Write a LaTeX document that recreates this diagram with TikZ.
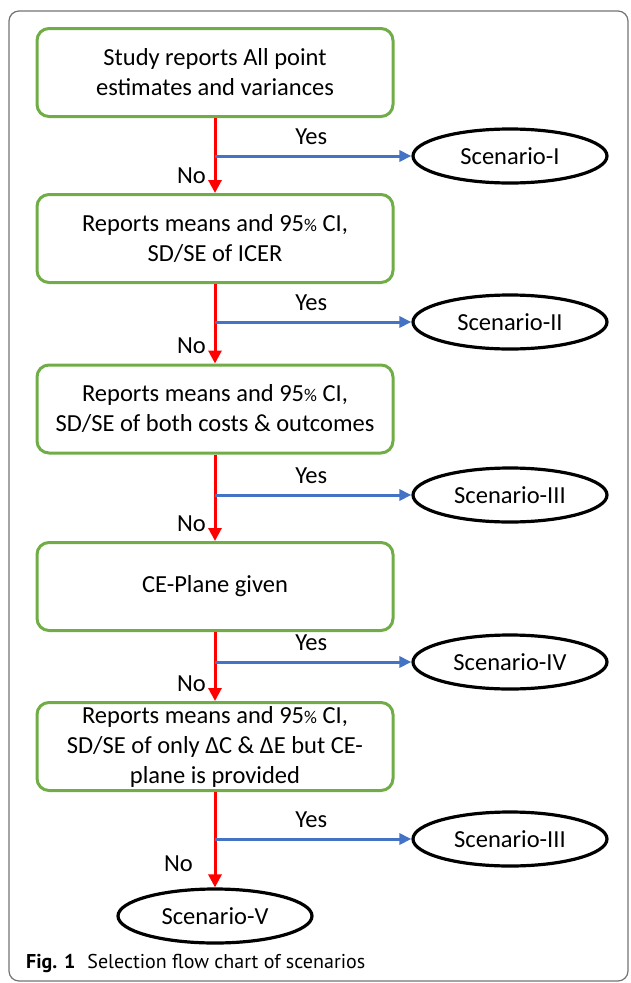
\documentclass[tikz,border=0pt]{standalone}
\usepackage{fontspec}
\setmainfont{Carlito}
\newfontfamily\capfont{PT Sans}
\usepackage{xcolor}
\usepackage{tikz}
\usetikzlibrary{shapes.geometric}
\usetikzlibrary{arrows.meta}
\definecolor{boxgreen}{RGB}{112,173,71}
\definecolor{yesblue}{RGB}{68,114,196}
\newcommand{\pct}{{\fontsize{18}{20}\selectfont\%}}

\begin{document}
\begin{tikzpicture}[x=1pt,y=-1pt]
  \tikzstyle{box}=[draw=boxgreen, line width=3pt, rounded corners=12pt, minimum width=356pt, minimum height=88pt, align=center, inner sep=0pt, font=\fontsize{24.5}{30}\selectfont] % questions in green boxes
  \tikzstyle{scen}=[draw, ellipse, line width=3.2pt, minimum width=194pt, minimum height=54pt, inner sep=0pt, font=\fontsize{24.5}{30}\selectfont] % outcomes
  \tikzstyle{lbl}=[inner sep=0pt, text=black, font=\fontsize{24.5}{30}\selectfont] % Yes / No
  \tikzstyle{no}=[red, line width=3pt, -{Triangle[length=13pt,width=13pt]}]
  \tikzstyle{yes}=[yesblue, line width=3pt, -{Triangle[length=12pt,width=11pt]}]
  \useasboundingbox (0,0) rectangle (630,983);
  \draw[black!55, line width=1.2pt, rounded corners=10pt] (9,11) rectangle (628,981);
  % questions
  \node[box] (q1) at (215,72.5) {Study reports All point\\estimates and variances};
  \node[box] (q2) at (215,238.5) {Reports means and 95\pct{} CI,\\SD/SE of ICER};
  \node[box] (q3) at (215,409) {Reports means and 95\pct{} CI,\\SD/SE of both costs \& outcomes};
  \node[box] (q4) at (215,586.5) {CE-Plane given};
  \node[box] (q5) at (215,746.5) {Reports means and 95\pct{} CI,\\SD/SE of only ΔC \& ΔE but CE-\\plane is provided};
  % scenarios
  \node[scen] (s1) at (510,156) {Scenario-I};
  \node[scen] (s2) at (510,322) {Scenario-II};
  \node[scen] (s3) at (510,495) {Scenario-III};
  \node[scen] (s4) at (510,662) {Scenario-IV};
  \node[scen] (s5) at (510,839) {Scenario-III};
  \node[scen] (sv) at (215,916) {Scenario-V};
  % branch points on the red line
  \coordinate (j1) at (q1 |- s1);
  \coordinate (j2) at (q2 |- s2);
  \coordinate (j3) at (q3 |- s3);
  \coordinate (j4) at (q4 |- s4);
  \coordinate (j5) at (q5 |- s5);
  % no
  \draw[no] (q1) -- (q2);
  \draw[no] (q2) -- (q3);
  \draw[no] (q3) -- (q4);
  \draw[no] (q4) -- (q5);
  \draw[no] (q5) -- (sv);
  \foreach \i in {2,3,4,5}
    \node[lbl, anchor=base east] (n\i) at ([xshift=-9pt,yshift=10pt]q\i.north) {No};
  \node[lbl, anchor=base east] (n6) at ([xshift=-22pt,yshift=16pt]sv.north) {No};
  % yes
  \foreach \i in {1,...,5}
    \draw[yes] (j\i) -- node[lbl, pos=0.49, above=10pt] (y\i) {Yes} (s\i.west);
  \node[anchor=base west, inner sep=0pt, font=\capfont\fontsize{20}{24}\selectfont] (cap) at (26,968) {\textbf{Fig. 1}\hspace{0.6em}Selection flow chart of scenarios};
\end{tikzpicture}
\end{document}
